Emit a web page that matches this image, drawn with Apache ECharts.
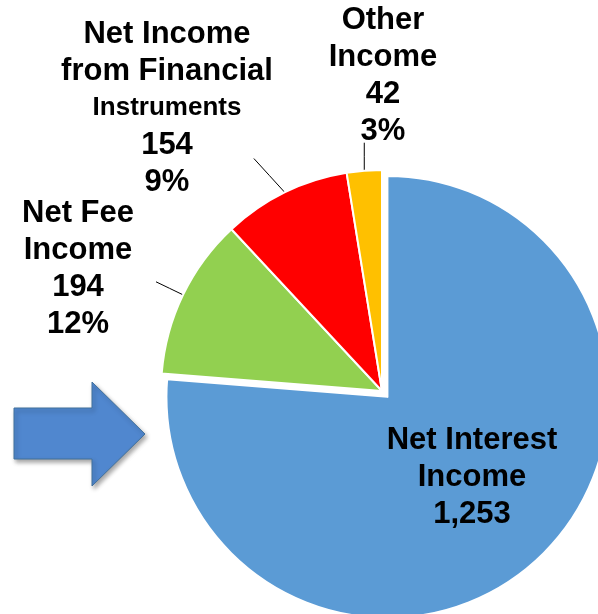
<!DOCTYPE html>
<html>
<head>
<meta charset="utf-8">
<script src="https://cdn.jsdelivr.net/npm/echarts@6/dist/echarts.min.js"></script>
<style>
  html, body { margin: 0; padding: 0; background: #fff; }
  #c { width: 598px; height: 614px; }
</style>
</head>
<body>
<div id="c"></div>
<script>
// Income breakdown
const categories = ['Net Interest Income', 'Net Fee Income', 'Net Income from Financial Instruments', 'Other Income'];
const values = [1253, 194, 154, 42];
const colors = ['#5B9BD5', '#92D050', '#FF0000', '#FFC000'];
// label wording, broken into lines
const labelNames = ['Net Interest\nIncome', 'Net Fee\nIncome', 'Net Income\nfrom Financial\n{i|Instruments}', 'Other\nIncome'];
const showPercent = [false, true, true, true];

// layout of the label blocks (centre points), leader line directions and lengths
const labelCentres = [[472, 477], [78, 269], [167, 108], [383, 76]];
const leaderDir = [[0, 0], [-27, -13], [-31, -34], [0, -1]];
const leaderLength = [0, 30, 46, 28];

const total = values.reduce((a, b) => a + b, 0);
const FONT = 'Liberation Sans, Arial, sans-serif';

const chart = echarts.init(document.getElementById('c'), null, { renderer: 'canvas' });

function labelText(i) {
  let s = labelNames[i] + '\n' + echarts.format.addCommas(values[i]);
  if (showPercent[i]) s += '\n' + Math.round(values[i] / total * 100) + '%';
  return s;
}

const labelStyle = {
  show: true,
  position: 'outside',
  color: '#000',
  fontFamily: FONT,
  fontWeight: 'bold',
  fontSize: 31,
  lineHeight: 37,
  align: 'center',
  formatter: p => labelText(p.dataIndex),
  rich: {
    i: { fontFamily: FONT, fontWeight: 'bold', fontSize: 26, lineHeight: 37, color: '#000', align: 'center' }
  }
};

function placeLabel(p) {
  const i = p.dataIndex;
  const c = labelCentres[i];
  const out = { x: c[0], y: c[1], align: 'center', verticalAlign: 'middle' };
  const pts = p.labelLinePoints;
  if (pts && pts.length && leaderLength[i] > 0) {
    const a = pts[0];
    const dx = leaderDir[i][0], dy = leaderDir[i][1];
    const d = Math.sqrt(dx * dx + dy * dy) || 1;
    const L = leaderLength[i];
    const e = [a[0] + dx / d * L, a[1] + dy / d * L];
    out.labelLinePoints = [a, [(a[0] + e[0]) / 2, (a[1] + e[1]) / 2], e];
  }
  return out;
}

const pieBase = {
  type: 'pie',
  center: [382, 391],
  radius: 221,
  startAngle: 90,
  clockwise: true,
  avoidLabelOverlap: false,
  emphasis: { disabled: true }
};

chart.setOption({
  backgroundColor: '#fff',
  animation: false,
  graphic: [{
    type: 'polygon',
    z: 10,
    shape: {
      points: [[14, 408], [92, 408], [92, 382], [145, 434], [92, 486], [92, 459], [14, 459]]
    },
    style: {
      fill: '#5087CF',
      stroke: '#41719C',
      lineWidth: 1,
      shadowBlur: 4,
      shadowOffsetX: 2,
      shadowOffsetY: 3,
      shadowColor: 'rgba(0,0,0,0.35)'
    }
  }],
  series: [
    // slices, with the largest one pulled out
    Object.assign({}, pieBase, {
      selectedMode: 'single',
      selectedOffset: 8,
      itemStyle: { borderColor: '#fff', borderWidth: 2 },
      label: labelStyle,
      labelLine: { show: true, lineStyle: { color: '#000', width: 1 } },
      labelLayout: placeLabel,
      data: categories.map((n, i) => ({
        name: n,
        value: values[i],
        selected: i === 0,
        itemStyle: { color: colors[i] },
        label: i === 0 ? { show: false } : {},
        labelLine: i === 0 ? { show: false } : {}
      }))
    }),
    // label of the pulled-out slice
    Object.assign({}, pieBase, {
      silent: true,
      z: 5,
      itemStyle: { color: 'rgba(0,0,0,0)', borderWidth: 0 },
      label: labelStyle,
      labelLine: { show: false },
      labelLayout: placeLabel,
      data: categories.map((n, i) => ({
        name: n,
        value: values[i],
        label: i === 0 ? {} : { show: false }
      }))
    })
  ]
});
</script>
</body>
</html>
